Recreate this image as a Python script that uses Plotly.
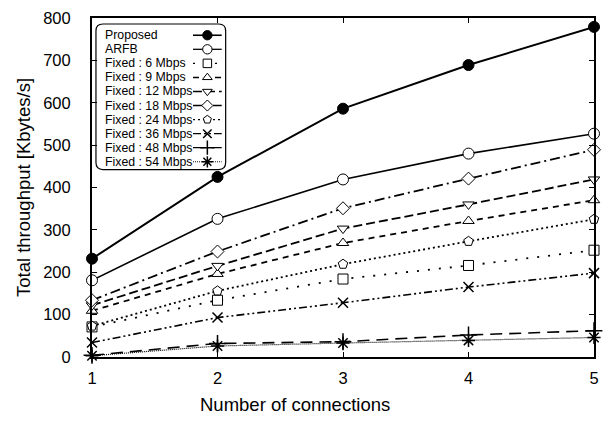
import plotly.graph_objects as go

connections = [1, 2, 3, 4, 5]

proposed = [232, 425, 586, 689, 779]
arfb = [181, 326, 419, 480, 527]
fixed_6 = [71, 134, 184, 216, 252]
fixed_9 = [109, 196, 269, 321, 370]
fixed_12 = [122, 215, 303, 360, 419]
fixed_18 = [134, 249, 351, 421, 489]
fixed_24 = [73, 156, 219, 273, 325]
fixed_36 = [34, 93, 128, 165, 198]
fixed_48 = [4, 32, 36, 52, 62]
fixed_54 = [3, 26, 33, 39, 46]

names = ["Proposed", "ARFB", "Fixed : 6 Mbps", "Fixed : 9 Mbps", "Fixed : 12 Mbps",
         "Fixed : 18 Mbps", "Fixed : 24 Mbps", "Fixed : 36 Mbps", "Fixed : 48 Mbps",
         "Fixed : 54 Mbps"]
series = [proposed, arfb, fixed_6, fixed_9, fixed_12, fixed_18, fixed_24, fixed_36,
          fixed_48, fixed_54]

x_title = "Number of connections"
y_title = "Total throughput [Kbytes/s]"

styles = [
    dict(symbol="circle", fill="black", dash="solid", size=11, lw=2),
    dict(symbol="circle", fill="white", dash="solid", size=11, lw=1.6),
    dict(symbol="square", fill="white", dash="2px,9px", size=10, lw=1.8),
    dict(symbol="triangle-up", fill="white", dash="6px,5px", size=10, lw=1.8),
    dict(symbol="triangle-down", fill="white", dash="9px,4px", size=10, lw=1.8),
    dict(symbol="diamond", fill="white", dash="10px,4px,2px,4px", size=10, lw=1.8),
    dict(symbol="pentagon", fill="white", dash="2px,3px", size=10, lw=1.8),
    dict(symbol="x-thin", fill="black", dash="8px,3px,2px,3px,2px,3px", size=10, lw=1.6),
    dict(symbol="cross-thin", fill="black", dash="12px,7px", size=12, lw=1.6),
    dict(symbol="asterisk", fill="black", dash="1px,1px", size=11, lw=1.2),
]

FONT = "Liberation Sans, Arial"
W, H = 608, 422
ML, MR, MT, MB = 92, 9, 17, 65
PW, PH = W - ML - MR, H - MT - MB

fig = go.Figure()


def marker_for(st, scale=1.0):
    thin = st["symbol"] in ("x-thin", "cross-thin", "asterisk")
    return dict(symbol=st["symbol"] + ("-open" if thin else ""),
                size=st["size"] * scale, color=st["fill"],
                line=dict(color="black", width=1.5 if thin else 1))


for name, vals, st in zip(names, series, styles):
    fig.add_trace(go.Scatter(
        x=connections, y=vals, name=name, mode="lines+markers",
        cliponaxis=False, showlegend=False,
        line=dict(color="black", width=st["lw"], dash=st["dash"]),
        marker=marker_for(st),
    ))

# ---- legend drawn in plot-pixel coordinates (overlay axes x2/y2) ----
box_x0, box_x1, box_y0, box_y1, rad = 4, 135, 6, 152, 7
row_y0, row_step = 17.3, 14.1
text_x = 11
key_x0, key_xm, key_x1 = 102, 116.5, 131

path = (f"M {box_x0+rad},{box_y0} L {box_x1-rad},{box_y0} "
        f"Q {box_x1},{box_y0} {box_x1},{box_y0+rad} L {box_x1},{box_y1-rad} "
        f"Q {box_x1},{box_y1} {box_x1-rad},{box_y1} L {box_x0+rad},{box_y1} "
        f"Q {box_x0},{box_y1} {box_x0},{box_y1-rad} L {box_x0},{box_y0+rad} "
        f"Q {box_x0},{box_y0} {box_x0+rad},{box_y0} Z")
fig.add_shape(type="path", path=path, xref="x2", yref="y2",
              line=dict(color="black", width=1.2), fillcolor="white", layer="below")

annotations = []
for i, (name, st) in enumerate(zip(names, styles)):
    ry = row_y0 + i * row_step
    annotations.append(dict(
        x=text_x, y=ry, xref="x2", yref="y2", text=name, showarrow=False,
        xanchor="left", yanchor="middle",
        font=dict(family=FONT, size=12.3, color="black")))
    fig.add_trace(go.Scatter(
        x=[key_x0, key_xm, key_x1], y=[ry, ry, ry], xaxis="x2", yaxis="y2",
        mode="lines+markers", showlegend=False, hoverinfo="skip",
        line=dict(color="black", width=st["lw"] * 0.8, dash=st["dash"]),
        marker=dict(marker_for(st, 0.85), opacity=[0, 1, 0]),
    ))

# x-axis title (centred on the canvas, as in the reference)
annotations.append(dict(
    x=(W / 2 - 7 - ML) / PW, y=-(405 - MT - PH) / PH, xref="paper", yref="paper",
    text=x_title, showarrow=False, xanchor="center", yanchor="middle",
    font=dict(family=FONT, size=18.5, color="black")))

axis_common = dict(
    showline=True, linecolor="black", linewidth=2, mirror="allticks",
    ticks="inside", ticklen=5, tickcolor="black", tickwidth=1,
    showgrid=False, zeroline=False,
    tickfont=dict(family=FONT, size=16.5, color="black"),
    title_font=dict(family=FONT, size=18.5, color="black"),
)

fig.update_layout(
    width=W, height=H,
    margin=dict(l=ML, r=MR, t=MT, b=MB),
    paper_bgcolor="white", plot_bgcolor="white",
    showlegend=False,
    annotations=annotations,
    xaxis=dict(range=[1, 5], tickvals=connections,
               ticklabelstandoff=5, **axis_common),
    yaxis=dict(range=[0, 800], dtick=100, title_text=y_title,
               ticklabelstandoff=16, title_standoff=8, **axis_common),
    xaxis2=dict(range=[0, PW], overlaying="x", visible=False, fixedrange=True),
    yaxis2=dict(range=[PH, 0], overlaying="y", visible=False, fixedrange=True),
)

fig.write_html("out.html")
